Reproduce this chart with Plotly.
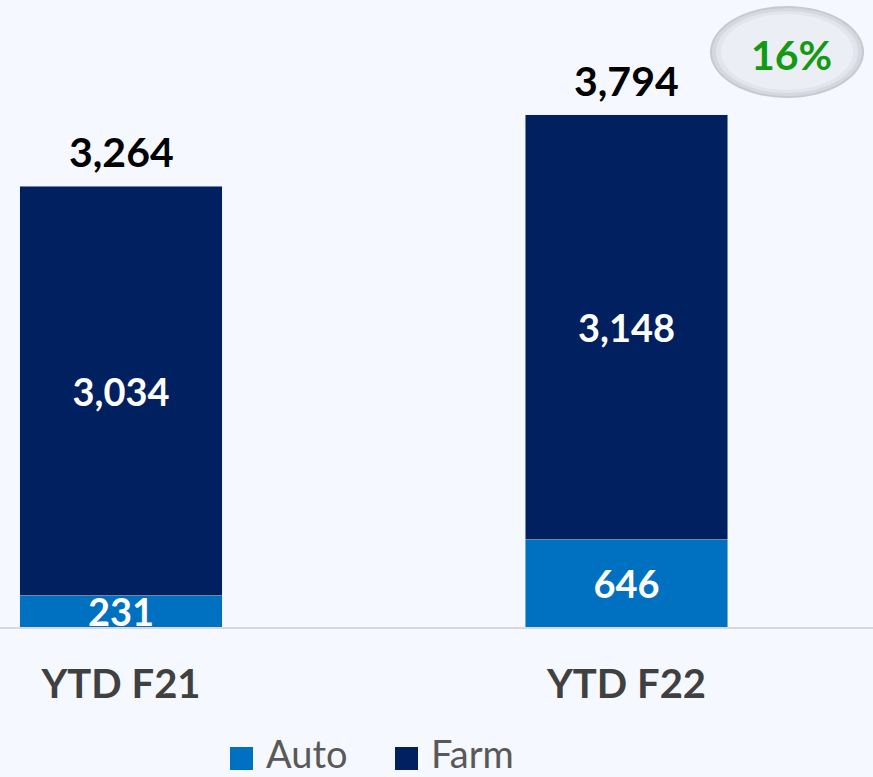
import plotly.graph_objects as go

categories = ["YTD F21", "YTD F22"]
auto_values = [231, 646]
farm_values = [3034, 3148]
totals = [3264, 3794]
growth_label = "16%"

BG = "#F5F8FE"
AUTO_C = "#0070C0"
FARM_C = "#002060"
FONT = "Lato"

W, H = 873, 777
PLOT_BOTTOM = 627  # px from top

fig = go.Figure()
fig.add_trace(go.Bar(
    name="Auto", x=categories, y=auto_values, marker_color=AUTO_C,
    width=0.4, texttemplate="%{y:,}", textposition="inside",
    insidetextanchor="middle", constraintext="none",
    textfont=dict(family=FONT, size=38, color="white", weight="bold"),
    cliponaxis=True,
))
fig.add_trace(go.Bar(
    name="Farm", x=categories, y=farm_values, marker_color=FARM_C,
    width=0.4, texttemplate="%{y:,}", textposition="inside",
    insidetextanchor="middle", constraintext="none",
    textfont=dict(family=FONT, size=38, color="white", weight="bold"),
))

for c, t in zip(categories, totals):
    fig.add_annotation(x=c, y=t, text=f"{t:,}", showarrow=False,
                       yanchor="bottom", yshift=8,
                       font=dict(family=FONT, size=41, color="black", weight="bold"))

def px_x(p):
    return p / W

def px_y(p):
    return (PLOT_BOTTOM - p) / PLOT_BOTTOM

# growth ellipse (layered for soft edge)
fig.add_shape(type="circle", xref="paper", yref="paper",
              x0=px_x(710), x1=px_x(864), y0=px_y(98), y1=px_y(6),
              fillcolor="#C6C9D3", line=dict(width=0), layer="above")
fig.add_shape(type="circle", xref="paper", yref="paper",
              x0=px_x(712), x1=px_x(862), y0=px_y(96), y1=px_y(8),
              fillcolor="#D6D8E1", line=dict(width=0), layer="above")
fig.add_shape(type="circle", xref="paper", yref="paper",
              x0=px_x(716), x1=px_x(858), y0=px_y(93), y1=px_y(11),
              fillcolor="#E3E5EE", line=dict(width=0), layer="above")
fig.add_shape(type="circle", xref="paper", yref="paper",
              x0=px_x(721), x1=px_x(853), y0=px_y(90), y1=px_y(14),
              fillcolor="#ECEEF6", line=dict(width=0), layer="above")
fig.add_annotation(xref="paper", yref="paper", x=px_x(791), y=px_y(54),
                   text=growth_label, showarrow=False,
                   xanchor="center", yanchor="middle",
                   font=dict(family=FONT, size=41, color="#129A12", weight="bold"))

# manual legend
legend_items = [("Auto", AUTO_C, 230), ("Farm", FARM_C, 395)]
for name, col, x0 in legend_items:
    fig.add_shape(type="rect", xref="paper", yref="paper",
                  x0=px_x(x0), x1=px_x(x0 + 23), y0=px_y(770), y1=px_y(747),
                  fillcolor=col, line=dict(width=0))
    fig.add_annotation(xref="paper", yref="paper", x=px_x(x0 + 34), y=px_y(753),
                       text=name, showarrow=False, xanchor="left", yanchor="middle",
                       font=dict(family=FONT, size=38, color="#595959"))

fig.update_layout(
    width=W, height=H, barmode="stack", showlegend=False,
    paper_bgcolor=BG, plot_bgcolor=BG,
    margin=dict(l=0, r=0, t=0, b=H - PLOT_BOTTOM, pad=0),
    xaxis=dict(range=[-121 / 505.5, -121 / 505.5 + W / 505.5],
               showline=True, linecolor="#D9D9D9", linewidth=2,
               showgrid=False, zeroline=False, ticks="",
               ticklabelstandoff=21,
               tickfont=dict(family=FONT, size=40, color="#404040", weight="bold")),
    yaxis=dict(range=[0, PLOT_BOTTOM / 0.135], visible=False, showgrid=False),
)

fig.write_html(
    "out.html",
    config={"displayModeBar": False},
    post_script="document.body.style.margin='0';document.body.style.background='#F5F8FE';document.body.style.overflow='hidden';",
)
